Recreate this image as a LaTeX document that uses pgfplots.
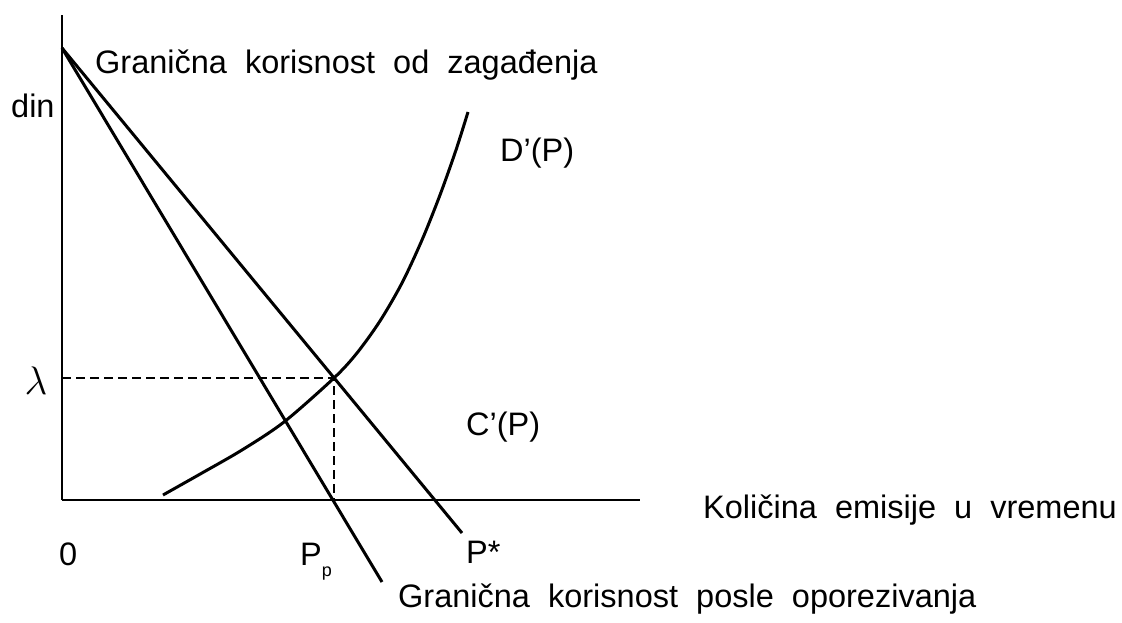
\documentclass[border=0pt]{standalone}
\usepackage{pgfplots}
\pgfplotsset{compat=1.18}
\usepackage{fontspec}
\setmainfont[WordSpace=2]{Liberation Sans}

\begin{document}
\begin{tikzpicture}
\useasboundingbox (-62pt,-122pt) rectangle (1060pt,500pt);
\begin{axis}[
    at={(0pt,0pt)}, anchor=origin,
    x=1pt, y=1pt,
    xmin=0, xmax=578, ymin=0, ymax=485,
    axis lines=left,
    axis line style={line width=2.2pt, -},
    xtick=\empty, ytick=\empty,
    clip=false,
]
% granicna korisnost od zagadjenja
\addplot[black, line width=3pt] coordinates {(0,452) (400,-33)};
% granicna korisnost posle oporezivanja
\addplot[black, line width=3pt] coordinates {(0,452) (320,-82)};
% D'(P) / C'(P)
\addplot[black, line width=3pt, smooth] coordinates {
    (101,5) (140,27) (180,50) (222,78) (272,122) (295,147)
    (318,179) (340,217) (360,260) (378,305) (394,350) (406,388)};
% dashed guides
\addplot[black, line width=1.6pt, dash pattern=on 9pt off 5pt] coordinates {(0,122) (272,122) (272,0)};
\end{axis}
\fontsize{32.5}{38}\selectfont
\node[anchor=base west, inner sep=0] at (33pt,426pt) {Granična korisnost od zagađenja};
\node[anchor=base west, inner sep=0] at (-51pt,382pt) {din};
\node[anchor=base west, inner sep=0] at (438pt,338pt) {D’(P)};
\node[inner sep=0] at (-26pt,119pt) {\scalebox{1.6}{$\lambda$}};
\node[anchor=base west, inner sep=0] at (404pt,65pt) {C’(P)};
\node[anchor=base west, inner sep=0] at (641pt,-18pt) {Količina emisije u vremenu};
\node[anchor=base west, inner sep=0] at (336pt,-107pt) {Granična korisnost posle oporezivanja};
\node[anchor=base west, inner sep=0] at (-3pt,-65pt) {0};
\node[anchor=base west, inner sep=0] at (238pt,-65pt) {P\raisebox{-0.35em}{\fontsize{18}{20}\selectfont p}};
\node[anchor=base west, inner sep=0] at (404pt,-63pt) {P*};
\end{tikzpicture}
\end{document}
